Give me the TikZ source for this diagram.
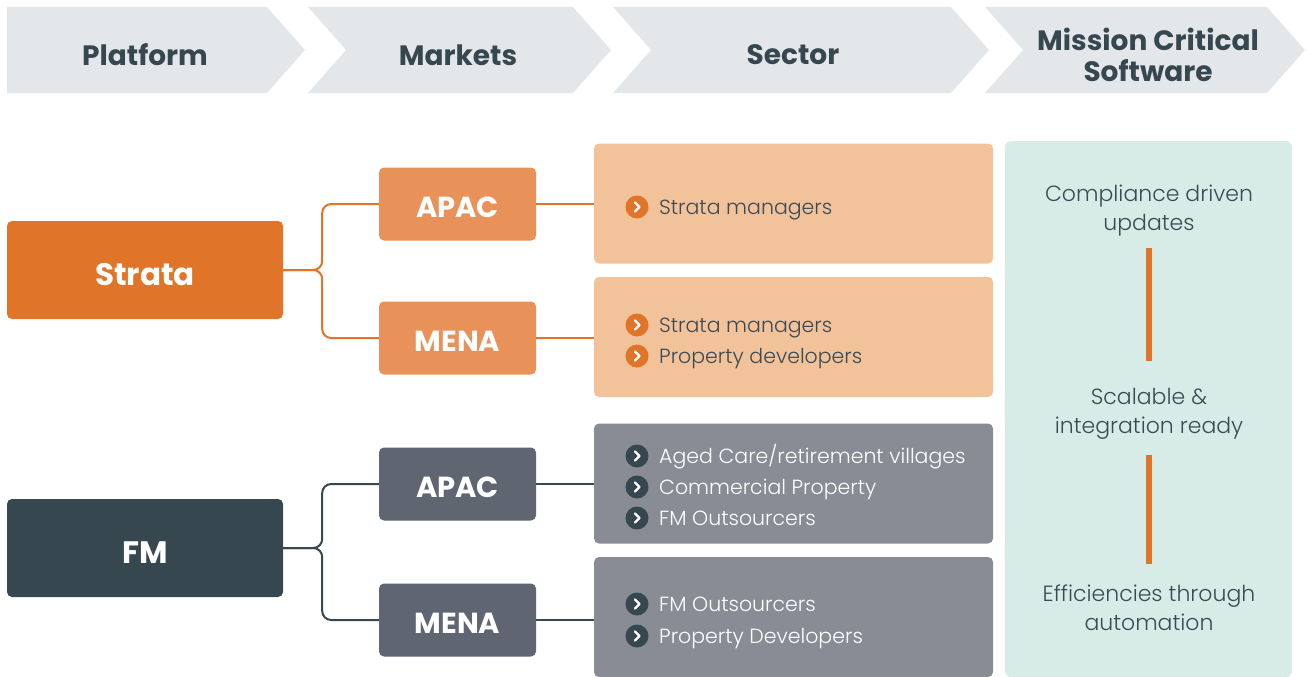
\documentclass[tikz,border=0pt]{standalone}
\usepackage{fontspec}
\setmainfont{Poppins}
\newfontfamily\lightfont{Poppins Light}

\definecolor{hdrgray}{HTML}{E4E7EA}
\definecolor{slate}{HTML}{37474F}
\definecolor{strataorange}{HTML}{E07428}
\definecolor{mktorange}{HTML}{E8925A}
\definecolor{secorange}{HTML}{F2C29A}
\definecolor{mktgray}{HTML}{5F6571}
\definecolor{secgray}{HTML}{898C95}
\definecolor{panelgreen}{HTML}{D8ECE7}
\definecolor{textslate}{HTML}{3B4A54}

\begin{document}
\begin{tikzpicture}[x=1pt,y=-1pt,
    hdr/.style={fill=hdrgray},
    hdrtext/.style={font=\bfseries\fontsize{28}{31}\selectfont, text=slate, align=center},
    platbox/.style={rounded corners=5pt, minimum width=276pt, minimum height=98pt,
        text=white, font=\bfseries\fontsize{31}{31}\selectfont},
    mktbox/.style={rounded corners=5pt, minimum width=157pt, minimum height=73pt,
        text=white, font=\bfseries\fontsize{29}{29}\selectfont},
    secbox/.style={rounded corners=5pt, minimum width=399pt, minimum height=120pt},
    boxlabel/.style={inner sep=0pt, text=white},
    bulletdot/.style={circle, minimum size=23pt, inner sep=0pt},
    itemtext/.style={anchor=base west, inner sep=0pt, font=\lightfont\fontsize{20.5}{20.5}\selectfont},
    paneltext/.style={align=center, text=textslate, font=\lightfont\fontsize{22}{29}\selectfont},
    link/.style={line width=2pt, rounded corners=9pt},
    vline/.style={strataorange, line width=5.5pt}
  ]
    \useasboundingbox (0,0) rectangle (1309,677);

    % header chevrons
    \fill[hdr] (7,7) -- (267,7) -- (305,50) -- (267,93) -- (7,93) -- cycle;
    \foreach \l/\r in {308/573, 613/951, 985/1267}{
        \fill[hdr] (\l,7) -- (\r,7) -- (\r+38,50) -- (\r,93) -- (\l,93) -- (\l+38,50) -- cycle;
      }
    \node[hdrtext] (hplat) at (145,55) {Platform};
    \node[hdrtext] (hmkt) at (458,55) {Markets};
    \node[hdrtext] (hsec) at (793,55) {Sector};
    \node[hdrtext] (hmsw) at (1148,55) {Mission Critical\\Software};

    % platforms and markets
    \node[platbox, fill=strataorange] (strata) at (145,270) {};
    \node[platbox, fill=slate] (fm) at (145,548) {};
    \node[mktbox, fill=mktorange] (sapac) at (457.5,204) {};
    \node[mktbox, fill=mktorange] (smena) at (457.5,338) {};
    \node[mktbox, fill=mktgray] (fapac) at (457.5,484) {};
    \node[mktbox, fill=mktgray] (fmena) at (457.5,620) {};
    \foreach \b/\t in {strata/Strata, fm/FM}{
        \node[boxlabel, font=\bfseries\fontsize{31}{31}\selectfont] (l\b) at ([yshift=-5pt]\b.center) {\t};
      }
    \foreach \b/\t in {sapac/APAC, smena/MENA, fapac/APAC, fmena/MENA}{
        \node[boxlabel, font=\bfseries\fontsize{29}{29}\selectfont] (l\b) at ([yshift=-3.5pt]\b.center) {\t};
      }

    % sector boxes
    \node[secbox, fill=secorange] (sec1) at (793.5,203.5) {};
    \node[secbox, fill=secorange] (sec2) at (793.5,337) {};
    \node[secbox, fill=secgray] (sec3) at (793.5,483.5) {};
    \node[secbox, fill=secgray] (sec4) at (793.5,617) {};

    % connectors
    \draw[link, strataorange] (strata.east) -- ++(39,0) |- (sapac.west);
    \draw[link, strataorange] (strata.east) -- ++(39,0) |- (smena.west);
    \draw[link, slate] (fm.east) -- ++(39,0) |- (fapac.west);
    \draw[link, slate] (fm.east) -- ++(39,0) |- (fmena.west);
    \draw[link, strataorange] (sapac.east) -- (sapac.east -| sec1.west);
    \draw[link, strataorange] (smena.east) -- (smena.east -| sec2.west);
    \draw[link, slate] (fapac.east) -- (fapac.east -| sec3.west);
    \draw[link, slate] (fmena.east) -- (fmena.east -| sec4.west);

    % sector items
    \foreach \n/\y/\t/\c/\tc in {
        1/207/{Strata managers}/strataorange/textslate,
        2/325/{Strata managers}/strataorange/textslate,
        3/356/{Property developers}/strataorange/textslate,
        4/456/{Aged Care/retirement villages}/slate/white,
        5/487/{Commercial Property}/slate/white,
        6/518/{FM Outsourcers}/slate/white,
        7/604/{FM Outsourcers}/slate/white,
        8/636/{Property Developers}/slate/white}{
        \node[bulletdot, fill=\c] (b\n) at (637,\y) {};
        \draw[white, line width=2.4pt, line cap=round, line join=round]
        ([xshift=-2pt,yshift=4.5pt]b\n.center) -- ([xshift=2.5pt]b\n.center) -- ([xshift=-2pt,yshift=-4.5pt]b\n.center);
        \node[itemtext, text=\tc] (t\n) at (659,\y+7.5) {\t};
      }

    % mission critical software panel
    \node[rounded corners=6pt, fill=panelgreen, minimum width=287pt, minimum height=536pt] (msw) at (1148.5,409) {};
    \node[paneltext] (c1) at (1149,210.5) {Compliance driven\\updates};
    \node[paneltext] (c2) at (1149,414) {Scalable \&\\integration ready};
    \node[paneltext] (c3) at (1149,607.5) {Efficiencies through\\automation};
    \draw[vline, shorten <=8pt, shorten >=24pt] (c1.south) -- (c2.north);
    \draw[vline, shorten <=12pt, shorten >=17pt] (c2.south) -- (c3.north);
  \end{tikzpicture}
\end{document}
